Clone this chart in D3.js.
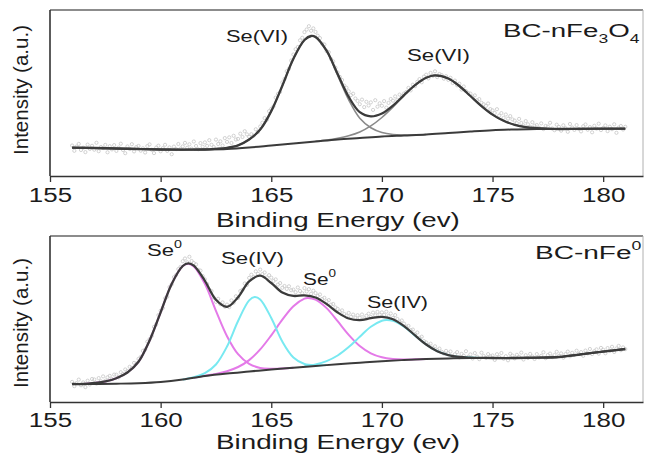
<!DOCTYPE html>
<html>
<head>
<meta charset="utf-8">
<script src="https://cdn.jsdelivr.net/npm/d3@7"></script>
<style>
  html, body { margin: 0; padding: 0; background: #fff; }
  svg { display: block; }
</style>
</head>
<body>
<svg id="chart" width="647" height="453"></svg>
<script>
// ---- shared axis ----
const xTicks = [155, 160, 165, 170, 175, 180];
const xTickLabels = ["155", "160", "165", "170", "175", "180"];
const xTitle = "Binding Energy (ev)";
const yTitle = "Intensity (a.u.)";

// raw scans are sampled every 0.1 eV starting at 156.0 eV
const scanStart = 156.0;
const scanStep = 0.1;

// ---- BC-nFe3O4 : Se 3d region ----
const fe3o4Raw = [
  30.5, 25.2, 29.4, 32.1, 26.0, 28.3, 23.9, 31.4, 27.1, 30.2,
  26.3, 33.2, 24.8, 29.0, 27.9, 31.1, 23.7, 29.8, 26.6, 30.9,
  25.1, 28.4, 32.3, 26.0, 22.8, 29.6, 27.0, 31.8, 24.6, 28.9,
  30.1, 25.3, 27.7, 23.5, 29.9, 31.6, 26.2, 22.9, 28.4, 30.3,
  24.7, 27.9, 31.2, 25.1, 28.6, 21.8, 29.4, 26.9, 32.0, 27.3,
  29.6, 33.1, 28.2, 31.7, 27.4, 34.5, 30.0, 26.8, 32.9, 29.3,
  33.6, 30.1, 35.8, 31.2, 28.9, 36.4, 32.0, 34.7, 30.5, 37.9,
  34.1, 38.6, 33.0, 40.2, 36.5, 37.1, 42.3, 39.0, 44.8, 41.6,
  39.1, 41.8, 40.2, 46.7, 44.0, 49.5, 53.3, 57.9, 56.2, 64.8,
  67.2, 69.5, 78.4, 82.0, 84.1, 93.6, 97.0, 104.8, 107.2, 115.5,
  121.5, 126.8, 129.0, 135.7, 138.2, 143.9, 146.5, 149.8, 145.2, 147.6,
  144.1, 140.3, 137.9, 132.2, 131.5, 124.9, 123.8, 117.0, 114.6, 108.3,
  103.5, 99.1, 96.0, 90.4, 88.2, 84.7, 80.9, 82.3, 77.5, 75.1,
  71.8, 76.4, 68.9, 74.2, 70.5, 73.6, 66.1, 75.8, 69.3, 72.7,
  70.2, 74.9, 68.4, 73.1, 77.0, 75.3, 79.6, 76.2, 81.4, 80.0,
  82.5, 84.0, 88.1, 85.6, 91.3, 89.8, 94.2, 96.9, 93.7, 99.4,
  101.3, 97.6, 103.1, 100.2, 104.7, 98.9, 102.0, 100.9, 97.3, 99.8,
  96.1, 98.2, 93.0, 95.4, 90.7, 92.3, 86.4, 89.5, 84.9, 83.0,
  82.4, 79.3, 80.6, 75.8, 76.9, 73.2, 71.8, 70.1, 72.5, 66.9,
  65.7, 63.0, 66.8, 60.4, 62.9, 58.1, 61.5, 57.3, 59.9, 56.6,
  55.4, 52.8, 57.1, 53.0, 50.6, 54.9, 51.7, 49.2, 53.8, 50.3,
  51.0, 48.2, 52.6, 46.9, 50.1, 49.4, 53.2, 47.5, 45.8, 51.3,
  49.1, 45.3, 50.7, 47.8, 44.2, 52.0, 48.5, 46.1, 50.9, 47.0,
  44.6, 49.8, 51.5, 46.3, 48.9, 43.7, 50.2, 47.4, 52.3, 45.9,
  48.0, 50.6, 44.9, 49.3, 46.8, 51.7, 43.2, 48.4, 50.0, 46.5,
  49.2
];
const fe3o4Background = [
  [156, 28.3], [157, 28.0], [158, 27.5], [159, 27.0], [160, 26.5], [161, 26.3],
  [162, 26.5], [163, 27.0], [164, 28.5], [165, 30.5], [166, 32.5], [167, 34.5],
  [168, 36.5], [169, 38.0], [170, 39.5], [171, 40.5], [172, 41.5], [173, 43.0],
  [174, 44.5], [175, 45.8], [176, 46.5], [177, 47.0], [178, 47.0], [179, 47.2],
  [180, 47.3], [181, 47.3]
];
const fe3o4SeVI_a = [
  [161.5, 26.4], [162, 26.5], [162.5, 27.2], [163, 28.2], [163.5, 30.7], [164, 36.5],
  [164.5, 46.4], [165, 64.9], [165.5, 90.3], [166, 117.2], [166.5, 136.0], [166.8, 139.9],
  [167, 138.8], [167.5, 124.8], [168, 100.7], [168.5, 76.1], [169, 57.7], [169.5, 48.3],
  [170, 43.5], [170.5, 41.5], [171, 41.0], [171.5, 41.0], [172, 41.5]
];
const fe3o4SeVI_b = [
  [167, 34.7], [167.5, 36.0], [168, 37.8], [168.5, 40.3], [169, 44.1], [169.5, 50.1],
  [170, 58.5], [170.5, 68.9], [171, 80.4], [171.5, 90.9], [172, 98.2], [172.4, 100.6],
  [173, 97.5], [173.5, 90.0], [174, 80.0], [174.5, 69.9], [175, 61.4], [175.5, 55.2],
  [176, 51.2], [176.5, 48.9], [177, 47.9], [177.5, 47.3], [178, 47.0]
];
const fe3o4Envelope = [
  [156, 28.3], [157, 28.0], [158, 27.5], [159, 27.0], [160, 26.5], [161, 26.3],
  [162, 26.5], [162.5, 27.2], [163, 28.2], [163.5, 30.7], [164, 36.5], [164.5, 46.4],
  [165, 64.9], [165.5, 90.3], [166, 117.2], [166.5, 136.0], [166.8, 140.0], [167, 139.0],
  [167.5, 125.3], [168, 102.0], [168.5, 79.1], [169, 63.8], [169.5, 59.6], [170, 62.5],
  [170.5, 70.4], [171, 80.9], [171.5, 90.9], [172, 98.2], [172.4, 100.6], [173, 97.5],
  [173.5, 90.0], [174, 80.0], [174.5, 69.9], [175, 61.4], [175.5, 55.2], [176, 51.2],
  [176.5, 48.9], [177, 47.9], [177.5, 47.3], [178, 47.0], [179, 47.2], [180, 47.3],
  [181, 47.3]
];

// ---- BC-nFe0 : Se 3d region ----
const feRaw = [
  20.1, 15.8, 18.9, 22.4, 16.7, 19.6, 14.9, 21.3, 17.5, 23.0,
  22.5, 18.4, 23.9, 20.8, 25.6, 21.3, 24.7, 26.1, 22.9, 27.4,
  27.3, 24.6, 29.8, 28.1, 32.5, 30.9, 35.2, 34.0, 39.1, 38.4,
  43.1, 45.0, 51.2, 52.4, 60.3, 62.8, 66.0, 75.1, 77.6, 86.9,
  91.3, 94.0, 103.6, 105.2, 114.9, 117.6, 124.8, 127.0, 132.9, 135.1,
  140.8, 143.5, 139.7, 145.2, 141.0, 138.9, 137.6, 132.1, 131.4, 125.9,
  122.6, 118.0, 112.3, 110.9, 104.5, 100.1, 103.2, 97.8, 99.6, 95.3,
  97.4, 94.8, 101.6, 99.3, 105.7, 104.0, 110.9, 112.2, 118.5, 117.1,
  124.1, 127.3, 125.0, 130.6, 128.2, 132.4, 127.9, 129.5, 124.6, 126.8,
  124.3, 121.0, 122.6, 117.4, 118.9, 114.2, 116.0, 113.1, 115.7, 111.8,
  112.4, 109.8, 114.5, 111.0, 108.7, 113.9, 110.5, 112.8, 108.2, 111.3,
  108.9, 106.1, 107.5, 103.0, 104.2, 100.7, 101.9, 97.4, 98.0, 94.6,
  93.1, 90.2, 91.6, 88.0, 86.3, 89.1, 85.2, 87.4, 84.0, 86.8,
  84.1, 87.5, 83.6, 86.2, 88.3, 85.0, 89.4, 86.7, 90.1, 87.2,
  89.6, 87.1, 90.3, 86.0, 88.5, 84.1, 86.9, 83.0, 80.2, 81.5,
  78.4, 75.3, 76.1, 71.9, 72.4, 67.8, 69.5, 64.2, 65.3, 60.9,
  59.6, 57.0, 58.3, 54.1, 55.7, 51.9, 53.4, 50.2, 48.6, 51.1,
  48.8, 50.5, 45.9, 47.7, 49.9, 44.6, 48.1, 46.3, 50.8, 45.2,
  47.6, 43.5, 48.9, 45.4, 42.8, 49.3, 46.0, 44.1, 47.9, 45.7,
  46.5, 42.1, 47.8, 44.9, 49.0, 43.3, 45.8, 41.7, 48.2, 46.4,
  43.6, 47.2, 45.1, 49.4, 42.5, 46.8, 44.0, 48.1, 45.5, 43.0,
  47.9, 44.6, 46.2, 49.7, 43.8, 46.9, 48.4, 44.9, 47.0, 50.2,
  46.1, 48.6, 44.3, 47.9, 50.4, 45.7, 49.2, 47.1, 51.3, 48.0,
  49.9, 46.2, 51.4, 48.6, 53.0, 47.9, 50.8, 52.6, 48.3, 54.1,
  52.3, 48.7, 53.9, 51.1, 55.2, 50.0, 53.5, 56.1, 51.8, 54.6,
  52.9
];
const feBackground = [
  [156, 18.0], [157, 18.0], [158, 18.3], [159, 18.8], [160, 20.0], [161, 22.5],
  [162, 26.0], [163, 28.5], [164, 30.5], [165, 32.5], [166, 34.3], [167, 36.0],
  [168, 37.8], [169, 39.3], [170, 40.8], [171, 42.0], [172, 43.0], [173, 43.6],
  [174, 44.0], [175, 44.0], [176, 44.0], [177, 44.3], [178, 45.0], [179, 47.7],
  [180, 50.4], [181, 53.0]
];
const feSe0_a = [
  [156.5, 18.0], [157, 19.0], [157.5, 20.6], [158, 23.8], [158.5, 29.5], [159, 40.2],
  [159.5, 61.5], [160, 89.7], [160.5, 118.1], [161, 135.9], [161.25, 138.3], [161.5, 135.6],
  [162, 118.1], [162.5, 91.2], [163, 65.8], [163.5, 47.8], [164, 38.1], [164.5, 34.1],
  [165, 33.3], [165.5, 33.6], [166, 34.3]
];
const feSeIV_a = [
  [161, 22.5], [161.5, 24.8], [162, 28.8], [162.5, 37.5], [163, 55.5], [163.5, 81.0],
  [164, 101.6], [164.25, 105.0], [164.5, 102.6], [165, 84.0], [165.5, 60.4], [166, 44.5],
  [166.5, 38.0], [167, 36.6], [167.5, 37.0]
];
const feSe0_b = [
  [161.5, 24.3], [162, 26.3], [162.5, 28.1], [163, 30.8], [163.5, 35.0], [164, 41.9],
  [164.5, 52.6], [165, 66.7], [165.5, 82.3], [166, 95.8], [166.5, 103.3], [166.65, 104.0],
  [167, 102.4], [167.5, 93.9], [168, 80.8], [168.5, 67.2], [169, 56.0], [169.5, 48.7],
  [170, 44.7], [170.5, 43.0], [171, 42.5], [171.5, 42.7], [172, 43.0]
];
const feSeIV_b = [
  [166.5, 35.7], [167, 37.5], [167.5, 40.9], [168, 46.5], [168.5, 54.9], [169, 65.2],
  [169.5, 75.2], [170, 81.3], [170.2, 82.0], [170.5, 81.2], [171, 75.4], [171.5, 66.4],
  [172, 57.5], [172.5, 50.8], [173, 46.9], [173.5, 45.1], [174, 44.4], [174.5, 44.1],
  [175, 44.0]
];
const feEnvelope = [
  [156, 18.0], [156.5, 18.0], [157, 19.0], [157.5, 20.6], [158, 23.8], [158.5, 29.5],
  [159, 40.2], [159.5, 61.5], [160, 89.7], [160.5, 118.1], [161, 136.0], [161.25, 138.6],
  [161.5, 136.3], [162, 121.2], [162.5, 102.2], [163, 95.1], [163.5, 104.8], [164, 120.6],
  [164.5, 126.3], [165, 119.0], [165.5, 109.5], [166, 106.1], [166.5, 106.6], [167, 104.5],
  [167.5, 98.0], [168, 89.5], [168.5, 83.5], [169, 81.9], [169.5, 83.8], [170, 85.2],
  [170.5, 82.8], [171, 75.9], [171.5, 66.6], [172, 57.5], [172.5, 50.8], [173, 46.9],
  [173.5, 45.1], [174, 44.4], [174.5, 44.1], [175, 44.0], [176, 44.0], [177, 44.3],
  [178, 45.0], [179, 47.7], [180, 50.4], [181, 53.0]
];

// ---- drawing ----
const FONT = "'Liberation Sans', Arial, Helvetica, sans-serif";
const TEXT = "#1b1b1b";
const svg = d3.select("#chart");
svg.append("rect").attr("width", 647).attr("height", 453).attr("fill", "#fff");

const x = d3.scaleLinear().domain([155, 181.8]).range([50, 643]);

// place a (possibly multi-part) label so it spans a given width from a left edge
function placeText(parent, parts, opt) {
  const g = parent.append("g");
  const t = g.append("text").attr("font-family", FONT).attr("fill", TEXT)
    .attr("font-size", opt.size);
  parts.forEach(p => {
    const s = t.append("tspan").text(p.t);
    if (p.size) s.attr("font-size", p.size);
    if (p.dy) s.attr("dy", p.dy);
  });
  const bb = t.node().getBBox();
  const sx = opt.width / bb.width;
  g.attr("transform", `translate(${opt.left - bb.x * sx},${opt.baseline}) scale(${sx},1)`);
  return g;
}

function drawPanel(cfg) {
  const y = d3.scaleLinear().domain([0, 166]).range([cfg.bottom, cfg.top]);
  const g = svg.append("g");

  // frame: light top/right edges
  g.append("line").attr("x1", 50).attr("x2", 643).attr("y1", cfg.top).attr("y2", cfg.top)
    .attr("stroke", "#666").attr("stroke-width", 1.5);
  g.append("line").attr("x1", 643).attr("x2", 643).attr("y1", cfg.top).attr("y2", cfg.bottom)
    .attr("stroke", "#b0b0b0").attr("stroke-width", 1);
  g.append("line").attr("x1", 50).attr("x2", 50).attr("y1", cfg.top).attr("y2", cfg.bottom)
    .attr("stroke", "#333").attr("stroke-width", 1.6);

  // raw counts
  const raw = cfg.raw.map((v, i) => [scanStart + i * scanStep, v]);
  g.append("g").selectAll("circle").data(raw).join("circle")
    .attr("cx", d => x(d[0])).attr("cy", d => y(d[1])).attr("r", 1.6)
    .attr("fill", "none").attr("stroke", "#c6c6c6").attr("stroke-width", 0.8);

  const line = d3.line().x(d => x(d[0])).y(d => y(d[1])).curve(d3.curveCatmullRom.alpha(0.5));
  cfg.components.forEach(c => {
    g.append("path").attr("d", line(c.data)).attr("fill", "none")
      .attr("stroke", c.color).attr("stroke-width", c.width);
  });
  g.append("path").attr("d", line(cfg.background)).attr("fill", "none")
    .attr("stroke", "#3b3b3b").attr("stroke-width", 2);
  g.append("path").attr("d", line(cfg.envelope)).attr("fill", "none")
    .attr("stroke", "#3b3b3b").attr("stroke-width", 2.3);

  // bottom axis
  const axis = d3.axisBottom(x).tickValues(xTicks)
    .tickFormat((d, i) => xTickLabels[i]).tickSize(6).tickSizeOuter(0).tickPadding(cfg.tickPad);
  const ag = g.append("g").attr("transform", `translate(0,${cfg.bottom})`).call(axis);
  ag.select(".domain").attr("stroke", "#333").attr("stroke-width", 1.6);
  ag.selectAll(".tick line").attr("stroke", "#333").attr("stroke-width", 1.3);
  ag.selectAll(".tick text").attr("font-family", FONT).attr("font-size", 19.5)
    .attr("fill", TEXT).attr("transform", "scale(1.33,1)");

  placeText(g, [{ t: xTitle }], { left: 216, width: 244, baseline: cfg.titleBaseline, size: cfg.titleSize });

  // rotated y title
  const yt = g.append("text").attr("font-family", FONT).attr("font-size", 20)
    .attr("fill", TEXT).attr("text-anchor", "middle").text(yTitle);
  const yw = yt.node().getBBox().width;
  yt.attr("transform", `translate(28,${cfg.yTitleCenter}) rotate(-90) scale(${130 / yw},1)`);

  cfg.labels.forEach(l => placeText(g, l.parts, l));
}

drawPanel({
  top: 10, bottom: 176, titleBaseline: 227, titleSize: 20, tickPad: 6, yTitleCenter: 90,
  raw: fe3o4Raw, background: fe3o4Background, envelope: fe3o4Envelope,
  components: [
    { data: fe3o4SeVI_a, color: "#8a8a8a", width: 1.6 },
    { data: fe3o4SeVI_b, color: "#8a8a8a", width: 1.6 }
  ],
  labels: [
    { parts: [{ t: "Se(VI)" }], left: 226, width: 62, baseline: 42, size: 17 },
    { parts: [{ t: "Se(VI)" }], left: 407, width: 63, baseline: 60.5, size: 17 },
    { parts: [{ t: "BC-nFe" }, { t: "3", size: 12, dy: 6 }, { t: "O", dy: -6 }, { t: "4", size: 12, dy: 6 }],
      left: 503, width: 137, baseline: 36.5, size: 19 }
  ]
});

drawPanel({
  top: 236, bottom: 402, titleBaseline: 449, titleSize: 19.5, tickPad: 5, yTitleCenter: 323,
  raw: feRaw, background: feBackground, envelope: feEnvelope,
  components: [
    { data: feSe0_a, color: "#e47ae8", width: 2 },
    { data: feSe0_b, color: "#e47ae8", width: 2 },
    { data: feSeIV_a, color: "#78e9f1", width: 2 },
    { data: feSeIV_b, color: "#78e9f1", width: 2 }
  ],
  labels: [
    { parts: [{ t: "Se" }, { t: "0", size: 11, dy: -8 }], left: 147, width: 35, baseline: 256, size: 17 },
    { parts: [{ t: "Se(IV)" }], left: 221, width: 63, baseline: 263.5, size: 17 },
    { parts: [{ t: "Se" }, { t: "0", size: 11, dy: -8 }], left: 303, width: 33, baseline: 284.5, size: 17 },
    { parts: [{ t: "Se(IV)" }], left: 367, width: 61, baseline: 308, size: 17 },
    { parts: [{ t: "BC-nFe" }, { t: "0", size: 12, dy: -9 }], left: 535, width: 107, baseline: 259, size: 19 }
  ]
});
</script>
</body>
</html>
